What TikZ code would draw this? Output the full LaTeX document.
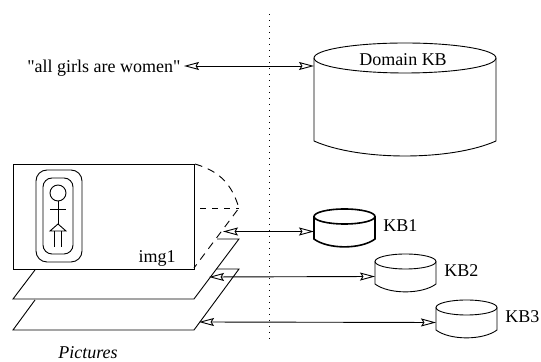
\documentclass[tikz,border=0pt]{standalone}
\usepackage{fontspec}
\setmainfont{Liberation Serif}
\newfontfamily\plainserif{Liberation Serif}
\usetikzlibrary{arrows.meta}
\tikzset{
  openhead/.style={{Stealth[open,length=7.5pt,width=4pt,inset=1.2pt]}-{Stealth[open,length=7.5pt,width=4pt,inset=1.2pt]}},
  lbl/.style={font=\fontsize{9}{10}\selectfont,inner sep=0pt},
  longdash/.style={dash pattern=on 3.8pt off 3pt}
}
\begin{document}
\begin{tikzpicture}[x=0.5pt,y=-0.5pt,line width=0.45pt]
            \useasboundingbox (0,0) rectangle (541,362);
            \draw [dash pattern=on 0.6pt off 2.4pt] (269,14) -- (269,342);

            % domain kb
            \draw (405,58) ellipse (91 and 15);
            \draw (314,58) -- (314,141) .. controls (359,161) and (451,161) .. (496,141) -- (496,58);
            \node[lbl] (domain) at (403,60) {Domain KB};
            \node[lbl,anchor=east] (quote) at (181,68) {\plainserif"all girls are women"};
            \coordinate (quotetip) at (184,66);
            \coordinate (domainin) at (314,66);
            \draw [openhead] (quotetip) -- (domainin);

            % small kbs
            \foreach \xk/\yk/\lab/\lw in {314/216.5/KB1/0.8, 375/261.5/KB2/0.45, 436/307.5/KB3/0.45} {
                \draw[line width=\lw pt] (\xk+30.5,\yk) ellipse (30.5 and 7.5);
                \draw[line width=\lw pt] (\xk,\yk) -- (\xk,\yk+22.5) .. controls (\xk+14,\yk+33) and (\xk+47,\yk+33) .. (\xk+61,\yk+22.5) -- (\xk+61,\yk);
                \node[lbl,anchor=west] (\lab) at (\xk+69,\yk+9.5) {\lab};
                \coordinate (\lab-in) at (\xk,\yk+15);
            }

            % pictures
            \draw (13,164) rectangle (194,269);
            \node[lbl,anchor=east] (imgone) at (176,258) {img1};
            \draw (35,270) -- (13,299) -- (194,299) -- (239,239) -- (217,239);
            \draw (35,300) -- (13,330) -- (194,330) -- (239,269) -- (216,269);
            \node[lbl,font=\fontsize{9}{10}\selectfont\itshape] (pictures) at (88,353) {Pictures};
            \draw [longdash] (195,164) .. controls (222,172) and (232,186) .. (239,208) -- (194,268);
            \draw [dashed] (200,208) -- (239,208);

            % figure inside img1
            \draw [rounded corners=5.5pt] (36,170) rectangle (82,262);
            \draw [rounded corners=4.5pt] (43,178) rectangle (73,254);
            \draw (58,193) circle (8);
            \draw (58,201) -- (58,224);
            \draw (50,209) -- (66,209);
            \draw (58,224) -- (50,231) -- (66,231) -- cycle;
            \foreach \xl in {54,61} {
                \draw (\xl,231) -- (\xl,247);
            }

            % links
            \coordinate (imgtip) at (223,231.5);
            \coordinate (planetwotip) at (209,277);
            \coordinate (planethreetip) at (199,322);
            \draw [openhead] (imgtip) -- (KB1-in);
            \draw [openhead] (planetwotip) -- (KB2-in);
            \draw [openhead] (planethreetip) -- (KB3-in);
        \end{tikzpicture}
\end{document}
